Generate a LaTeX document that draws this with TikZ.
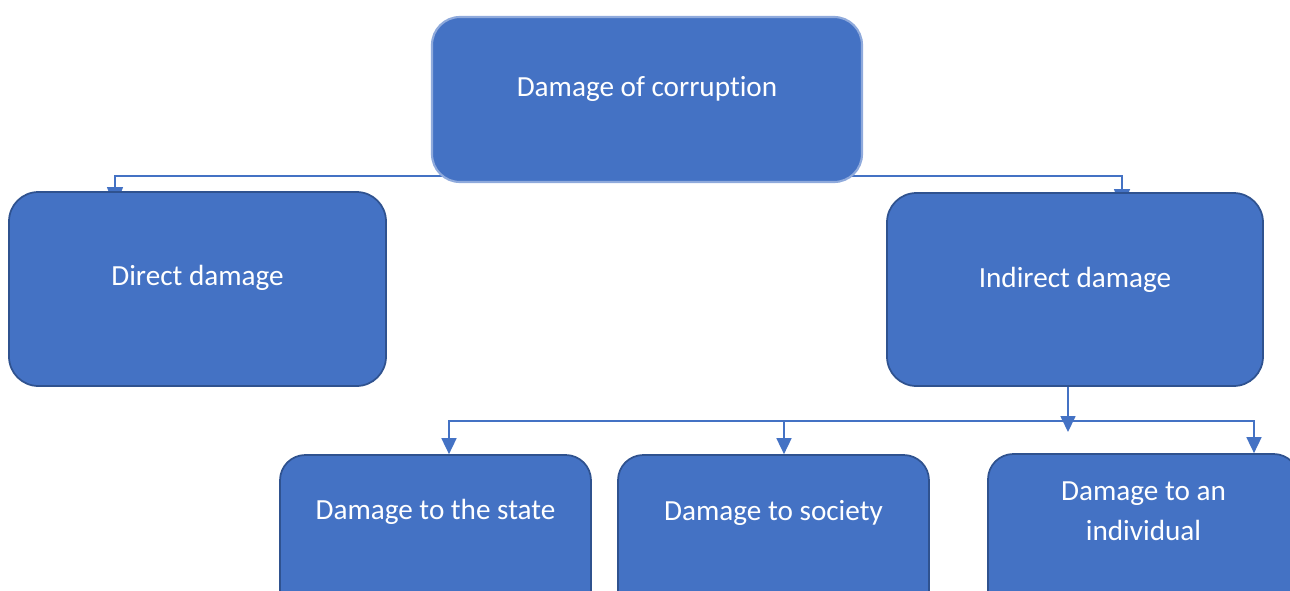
\documentclass[tikz,border=0pt]{standalone}
\usepackage{fontspec}
\setmainfont{Carlito}[Ligatures=NoCommon]
\usetikzlibrary{arrows.meta,backgrounds}
\definecolor{boxfill}{HTML}{4472C4}
\definecolor{boxline}{HTML}{2F528F}
\definecolor{topline}{HTML}{8FAADC}
\definecolor{conncol}{HTML}{4472C4}
\begin{document}
\begin{tikzpicture}[x=0.75pt,y=-0.75pt,
  box/.style={draw=boxline, line width=1.3pt, fill=boxfill, rounded corners=21pt,
    text=white, font=\fontsize{21.9}{30}\selectfont, align=center, inner sep=0pt,
    text height=16pt},
  lowbox/.style={box, rounded corners=19pt, minimum width=233.25pt, minimum height=123.75pt},
  conn/.style={draw=conncol, line width=1.1pt},
  tip/.style={-{Triangle[length=12pt,width=11.3pt]}},
  bitip/.style={{Triangle[length=12pt,width=11.3pt]}-{Triangle[length=12pt,width=11.3pt]}},
  hidtip/.style={-{Triangle[length=15pt,width=12pt]}}
]
\useasboundingbox (0,0) rectangle (1290,590);

\node[box, draw=topline, line width=1.6pt, minimum width=322.5pt, minimum height=123.75pt,
  text depth=21.2pt] (top) at (647,99.5) {Damage of corruption};
\node[box, minimum width=282.75pt, minimum height=145.5pt, rounded corners=22pt,
  text depth=22pt] (direct) at (197.5,289) {Direct damage};
\node[box, minimum width=282pt, minimum height=144.75pt, rounded corners=22pt,
  text depth=19.7pt] (indirect) at (1075,289.5) {Indirect damage};
\node[lowbox, text depth=43.7pt] (state) at (435.5,537.5) {Damage to the state};
\node[lowbox, text depth=42.2pt] (society) at (773.5,537.5) {Damage to society};
\node[lowbox, text depth=10.7pt] (indiv) at (1143.5,536.5) {Damage to an\\individual};

\coordinate (dIn) at (115,207);
\coordinate (iIn) at (1122,209);
\coordinate (hub) at (1068,432);
\coordinate (busR) at (1254,421);
\coordinate (busS) at (784,421);

\begin{scope}[on background layer]
  \draw[conn, hidtip] (top.center |- 0,176) -| (dIn);
  \draw[conn, hidtip] (top.center |- 0,176) -| (iIn);
  \draw[conn, tip] (indirect.south -| 1068,0) -- (hub);
  \draw[conn, bitip] (449,0 |- state.north) |- (busR) -- (1254,0 |- indiv.north);
  \draw[conn, tip] (busS) -- (784,0 |- society.north);
\end{scope}
\end{tikzpicture}
\end{document}
